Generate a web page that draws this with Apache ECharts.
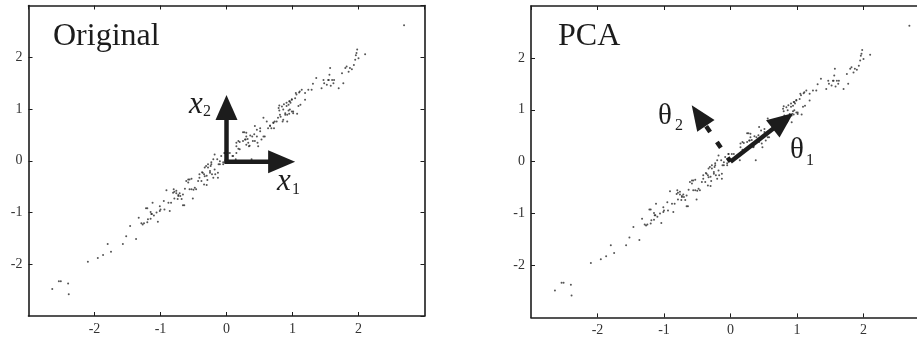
<!DOCTYPE html>
<html>
<head>
<meta charset="utf-8">
<script src="https://cdn.jsdelivr.net/npm/echarts@6/dist/echarts.min.js"></script>
<style>
html,body{margin:0;padding:0;background:#fff;}
#chart{width:917px;height:341px;}
</style>
</head>
<body>
<div id="chart"></div>
<script>
// ---- data ----
var samples = [
[-2.64,-2.48],[-2.54,-2.33],[-2.51,-2.33],[-2.40,-2.37],[-2.39,-2.58],[-2.10,-1.95],[-1.95,-1.88],[-1.87,-1.82],[-1.80,-1.61],[-1.75,-1.76],
[-1.57,-1.61],[-1.52,-1.46],[-1.46,-1.26],[-1.37,-1.51],[-1.33,-1.10],[-1.29,-1.21],[-1.27,-1.23],[-1.22,-0.92],[-1.19,-1.13],[-1.14,-1.03],
[-1.12,-0.81],[-1.10,-1.06],[-1.06,-1.00],[-1.04,-1.18],[-1.01,-0.88],[-0.95,-0.78],[-0.94,-0.94],[-0.86,-0.97],[-0.91,-0.57],[-0.84,-0.81],
[-0.81,-0.62],[-0.79,-0.73],[-0.76,-0.58],[-0.73,-0.68],[-0.71,-0.63],[-0.68,-0.74],[-0.66,-0.65],[-0.66,-0.86],[-0.63,-0.54],[-0.61,-0.39],
[-0.58,-0.42],[-0.56,-0.55],[-0.53,-0.35],[-0.51,-0.73],[-0.50,-0.56],[-0.46,-0.55],[-0.41,-0.26],[-0.38,-0.39],[-0.36,-0.23],[-0.34,-0.46],
[-0.31,-0.10],[-0.30,-0.29],[-0.28,-0.07],[-0.25,-0.20],[-0.23,-0.03],[-0.20,-0.33],[-0.18,-0.17],[-0.14,0.03],[-0.13,-0.23],[-0.10,-0.07],
[-0.08,0.09],[-0.05,-0.03],[-0.03,0.15],[0.05,0.15],[0.10,0.09],[0.15,0.28],[0.18,0.38],[0.20,0.22],[0.25,0.55],[0.28,0.41],
[0.30,0.47],[0.33,0.35],[0.35,0.29],[0.36,0.49],[0.40,0.38],[0.43,0.67],[0.46,0.47],[0.48,0.28],[0.51,0.57],[0.53,0.41],
[0.58,0.47],[0.56,0.83],[0.61,0.76],[0.63,0.63],[0.66,0.68],[0.71,0.73],[0.73,0.76],[0.79,1.02],[0.81,0.89],[0.84,1.05],
[0.86,0.79],[0.89,0.92],[0.91,1.06],[0.92,0.89],[0.95,1.15],[0.96,0.99],[0.99,1.18],[1.01,0.92],[1.04,1.21],[1.06,1.28],
[1.09,1.06],[1.11,1.34],[1.14,1.37],[1.19,1.31],[1.24,1.37],[1.29,1.37],[1.36,1.60],[1.44,1.40],[1.47,1.56],[1.52,1.47],
[1.55,1.56],[1.57,1.79],[1.60,1.56],[1.62,1.50],[1.70,1.40],[1.75,1.69],[1.77,1.50],[1.80,1.79],[1.85,1.72],[1.87,1.79],
[1.93,1.85],[1.95,1.95],[1.97,2.08],[1.98,2.15],[2.00,1.98],[2.10,2.06],[2.69,2.62],
[-1.25,-1.21],[-1.20,-1.19],[-1.15,-1.12],[-1.13,-1.03],[-1.15,-0.99],[-1.20,-0.92],[-1.01,-0.97],[-1.00,-0.94],[-0.88,-0.81],[-0.80,-0.55],
[-0.79,-0.60],[-0.76,-0.63],[-0.73,-0.66],[-0.70,-0.68],[-0.74,-0.74],[-0.64,-0.86],[-0.58,-0.36],[-0.56,-0.36],[-0.53,-0.55],[-0.48,-0.52],
[-0.43,-0.39],[-0.41,-0.33],[-0.37,-0.22],[-0.34,-0.26],[-0.33,-0.13],[-0.30,-0.47],[-0.29,-0.37],[-0.24,-0.10],[-0.22,-0.26],[-0.20,0.03],
[-0.18,0.12],[-0.12,-0.07],[-0.05,-0.07],
[0.68,0.63],[0.72,0.63],[0.71,0.74],[0.76,0.76],[0.85,0.76],[0.92,0.76],[0.82,0.85],[0.95,0.91],[1.07,0.91],[0.80,0.97],
[0.86,0.99],[0.94,0.97],[0.99,0.95],[1.01,0.95],[0.80,1.07],[0.87,1.09],[0.94,1.08],[0.97,1.12],[1.12,1.08],[0.99,1.19],
[1.19,1.18],[1.10,1.32],[1.05,1.31],[1.31,1.49],[1.48,1.50],[1.54,1.56],[1.56,1.66],[1.63,1.56],[1.58,1.45],[1.82,1.82],
[1.90,1.77],[1.96,2.04],
[0.02,0.15],[0.09,0.09],[0.15,0.15],[0.18,0.23],[0.15,0.35],[0.20,0.36],[0.25,0.38],[0.29,0.41],[0.32,0.42],[0.30,0.31],
[0.34,0.28],[0.27,0.55],[0.30,0.54],[0.39,0.47],[0.42,0.51],[0.43,0.38],[0.47,0.35],[0.46,0.60],[0.51,0.63],[0.56,0.47],
[0.66,0.67],[0.78,0.83],[0.91,1.12],[0.96,1.15],[0.89,0.89],[-0.33,-0.30],[-0.28,-0.13],[-0.23,-0.07],[-0.25,-0.23],[-0.17,-0.26],
[-0.13,-0.33],[-0.10,-0.01],[-0.03,0.15],[0.14,0.03],[0.38,0.03]
];
var axisTicks = [-3, -2, -1, 0, 1, 2, 3];
// arrows: [startX, startY, tipX, tipY] in data units
var arrowX1 = [-0.03, -0.02, 1.04, -0.02];
var arrowX2 = [0, -0.05, 0, 1.27];
var arrowTheta1 = [0, 0, 0.945, 0.94];
var arrowTheta2 = [0, 0, -0.583, 1.088];
var panelTitles = ['Original', 'PCA'];

// ---- chart ----
var chart = echarts.init(document.getElementById('chart'), null, {renderer: 'canvas'});
var FONT = '"Liberation Serif", "Times New Roman", serif';
var INK = '#1c1c1c';

function axisCommon(pos, idx, showLabel) {
  return {
    type: 'value', gridIndex: idx, position: pos,
    min: axisTicks[0], max: axisTicks[axisTicks.length - 1], interval: 1,
    axisLine: {show: true, onZero: false, lineStyle: {color: INK, width: 1.6}},
    axisTick: {show: true, inside: true, length: 4, lineStyle: {color: INK, width: 1}},
    splitLine: {show: false},
    axisLabel: {show: showLabel, showMinLabel: false, showMaxLabel: false,
      fontFamily: FONT, fontSize: 14, color: '#333', margin: 6}
  };
}

function arrowSeries(arrow, axisIdx, style) {
  return {
    type: 'custom', coordinateSystem: 'cartesian2d',
    xAxisIndex: axisIdx, yAxisIndex: axisIdx, silent: true, z: 5, clip: false,
    data: [arrow],
    renderItem: function (params, api) {
      var p0 = api.coord([api.value(0), api.value(1)]);
      var p1 = api.coord([api.value(2), api.value(3)]);
      var dx = p1[0] - p0[0], dy = p1[1] - p0[1];
      var len = Math.sqrt(dx * dx + dy * dy);
      var ux = dx / len, uy = dy / len, nx = -uy, ny = ux;
      var bx = p1[0] - ux * style.headLen, by = p1[1] - uy * style.headLen;
      var hw = style.headWidth / 2;
      return {
        type: 'group',
        children: [
          {type: 'line',
            shape: {x1: p0[0], y1: p0[1], x2: bx + ux * 1.5, y2: by + uy * 1.5},
            style: {stroke: INK, lineWidth: style.width, lineDash: style.dash || null,
              lineDashOffset: style.dashOffset || 0, lineCap: 'butt'}},
          {type: 'polygon',
            shape: {points: [[p1[0], p1[1]], [bx + nx * hw, by + ny * hw], [bx - nx * hw, by - ny * hw]]},
            style: {fill: INK, stroke: null}}
        ]
      };
    }
  };
}

var option = {
  animation: false,
  backgroundColor: '#fff',
  grid: [
    {left: 28.5, top: 5.5, width: 396, height: 310.5, outerBoundsMode: 'none', containLabel: false},
    {left: 531, top: 6, width: 399, height: 311.4, outerBoundsMode: 'none', containLabel: false}
  ],
  xAxis: [
    axisCommon('bottom', 0, true), axisCommon('top', 0, false),
    axisCommon('bottom', 1, true), axisCommon('top', 1, false)
  ],
  yAxis: [
    axisCommon('left', 0, true), axisCommon('right', 0, false),
    axisCommon('left', 1, true), axisCommon('right', 1, false)
  ],
  series: [
    {type: 'scatter', xAxisIndex: 0, yAxisIndex: 0, data: samples, symbol: 'circle', symbolSize: 2,
      itemStyle: {color: '#2a2a2a'}, silent: true},
    {type: 'scatter', xAxisIndex: 2, yAxisIndex: 2, data: samples, symbol: 'circle', symbolSize: 2,
      itemStyle: {color: '#2a2a2a'}, silent: true},
    arrowSeries(arrowX1, 0, {width: 4.5, headLen: 27, headWidth: 23}),
    arrowSeries(arrowX2, 0, {width: 4.5, headLen: 25, headWidth: 22}),
    arrowSeries(arrowTheta1, 2, {width: 4.5, headLen: 26, headWidth: 22}),
    arrowSeries(arrowTheta2, 2, {width: 4.5, headLen: 25, headWidth: 21, dash: [7, 12], dashOffset: 2})
  ],
  graphic: [
    {type: 'text', x: 53, y: 21, z: 10, style: {text: panelTitles[0], font: '32px ' + FONT, fill: INK}},
    {type: 'text', x: 558, y: 21, z: 10, style: {text: panelTitles[1], font: '32px ' + FONT, fill: INK}},
    {type: 'text', x: 189, y: 89, z: 10, style: {text: 'x', font: 'italic 31px ' + FONT, fill: INK}},
    {type: 'text', x: 203, y: 104, z: 10, style: {text: '2', font: '16px ' + FONT, fill: INK}},
    {type: 'text', x: 277, y: 166, z: 10, style: {text: 'x', font: 'italic 31px ' + FONT, fill: INK}},
    {type: 'text', x: 292, y: 182, z: 10, style: {text: '1', font: '16px ' + FONT, fill: INK}},
    {type: 'text', x: 658, y: 102, z: 10, style: {text: 'θ', font: '29px ' + FONT, fill: INK}},
    {type: 'text', x: 675, y: 118, z: 10, style: {text: '2', font: '16px ' + FONT, fill: INK}},
    {type: 'text', x: 790, y: 136, z: 10, style: {text: 'θ', font: '29px ' + FONT, fill: INK}},
    {type: 'text', x: 806, y: 153, z: 10, style: {text: '1', font: '16px ' + FONT, fill: INK}}
  ]
};
chart.setOption(option);
</script>
</body>
</html>
